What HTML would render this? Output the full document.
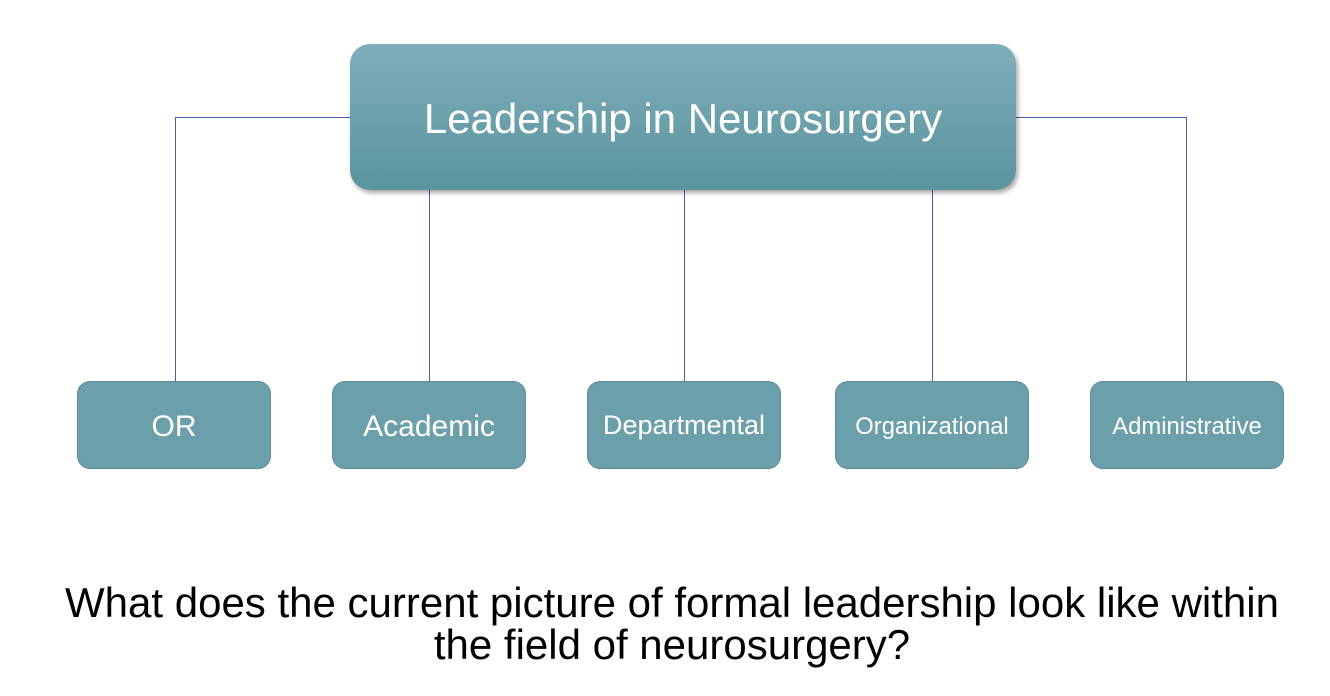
<!DOCTYPE html>
<html><head><style>
body{margin:0;width:1330px;height:696px;background:#fff;position:relative;overflow:hidden;font-family:"Liberation Sans",Arial,sans-serif}
.top{position:absolute;left:350px;top:44px;width:666px;height:146px;border-radius:20px;background:linear-gradient(#7eaeb9,#5b949f);box-shadow:2px 3px 5px rgba(0,0,0,.35);color:#fff;font-size:42px;display:flex;align-items:center;justify-content:center;padding-top:4px;box-sizing:border-box}
.b{position:absolute;top:381px;border-radius:13px;background:#6ba0ab;border:1px solid #5a8d98;color:#fff;display:flex;align-items:center;justify-content:center;padding-top:4px;box-sizing:border-box;height:88px;width:194px}
.q{position:absolute;left:0;width:1344px;text-align:center;font-size:42px;color:#000;line-height:42px;top:582px;white-space:nowrap}
</style></head><body>
<svg width="1330" height="696" style="position:absolute;left:0;top:0">
<g stroke="#4a5aa8" stroke-width="1" fill="none">
<polyline points="350,117.5 175.5,117.5 175.5,382"/>
<polyline points="1016,117.5 1186.5,117.5 1186.5,382"/>
<line x1="429.5" y1="190" x2="429.5" y2="382"/>
<line x1="684.5" y1="190" x2="684.5" y2="382"/>
<line x1="932.5" y1="190" x2="932.5" y2="382"/>
</g></svg>
<div class="top">Leadership in Neurosurgery</div>
<div class="b" style="left:77px;font-size:30px">OR</div>
<div class="b" style="left:332px;font-size:30px">Academic</div>
<div class="b" style="left:587px;font-size:27px;padding-top:0">Departmental</div>
<div class="b" style="left:835px;font-size:23.8px">Organizational</div>
<div class="b" style="left:1090px;font-size:23.8px">Administrative</div>
<div class="q">What does the current picture of formal leadership look like within<br>the field of neurosurgery?</div>
</body></html>
